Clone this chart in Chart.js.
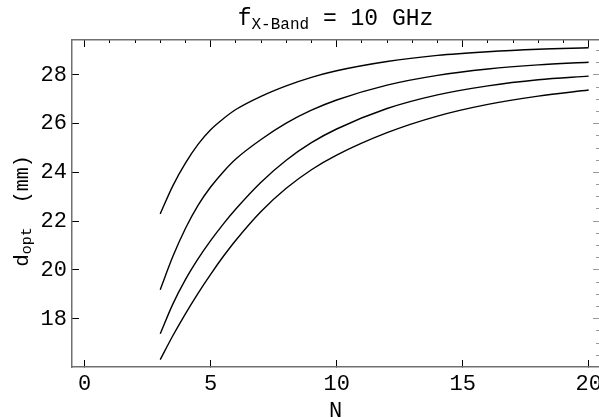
<!DOCTYPE html>
<html>
<head>
<meta charset="utf-8">
<script src="https://cdn.jsdelivr.net/npm/chart.js@4.4.1/dist/chart.umd.min.js"></script>
<style>
  html, body { margin: 0; padding: 0; background: #fff; overflow: hidden; }
  #wrap { width: 599px; height: 417px; }
</style>
</head>
<body>
<div id="wrap"><canvas id="c" width="599" height="417"></canvas></div>
<script>
// ---- data ----
const nValues = [3, 3.5, 4, 4.5, 5, 5.5, 6, 7, 8, 9, 10, 12, 14, 16, 18, 20];
const curve1 = [22.3, 23.45, 24.38, 25.15, 25.75, 26.2, 26.58, 27.12, 27.55, 27.9, 28.17, 28.55, 28.8, 28.95, 29.05, 29.11];
const curve2 = [19.19, 20.55, 21.7, 22.65, 23.4, 24.02, 24.55, 25.35, 26.02, 26.55, 26.97, 27.58, 27.98, 28.24, 28.41, 28.52];
const curve3 = [17.38, 18.6, 19.6, 20.45, 21.2, 21.88, 22.5, 23.6, 24.5, 25.22, 25.78, 26.62, 27.18, 27.55, 27.8, 27.95];
const curve4 = [16.32, 17.3, 18.2, 19.04, 19.82, 20.55, 21.22, 22.4, 23.35, 24.11, 24.71, 25.63, 26.31, 26.79, 27.13, 27.38];
const xTickLabels = [0, 5, 10, 15, 20];
const yTickLabels = [18, 20, 22, 24, 26, 28];
const titleMain = 'f';
const titleSub = 'X-Band';
const titleRest = ' = 10 GHz';
const yLabelMain = 'd';
const yLabelSub = 'opt';
const yLabelRest = '  (mm)';
const xLabel = 'N';

const FONT = '"Liberation Mono", "Courier New", monospace';

function toPoints(ys) { return nValues.map((n, i) => ({ x: n, y: ys[i] })); }

const isXMajor = v => xTickLabels.includes(Math.round(v * 1000) / 1000);
const isYMajor = v => yTickLabels.includes(Math.round(v * 1000) / 1000);

function tickDash(isMajor, fromBorder) {
  return ctx => {
    if (!ctx.tick) return [];
    if (isMajor(ctx.tick.value)) return [];
    return fromBorder ? [3, 100] : [0, 4, 3, 100];
  };
}

function fixFit(w, h) {
  return s => {
    if (w !== null) s.width = w;
    if (h !== null) s.height = h;
    s.paddingLeft = 0; s.paddingRight = 0; s.paddingTop = 0; s.paddingBottom = 0;
  };
}

function drawRich(ctx, parts, cx, baseline) {
  let total = 0;
  parts.forEach(p => { ctx.font = p.size + 'px ' + FONT; p.w = ctx.measureText(p.text).width; total += p.w; });
  let x = cx - total / 2;
  parts.forEach(p => {
    ctx.font = p.size + 'px ' + FONT;
    ctx.fillText(p.text, x, baseline + (p.dy || 0));
    x += p.w;
  });
}

const textPlugin = {
  id: 'richText',
  afterDraw(chart) {
    const ctx = chart.ctx;
    const a = chart.chartArea;
    const cx = (a.left + a.right) / 2;
    ctx.save();
    ctx.fillStyle = '#000';
    ctx.textAlign = 'left';
    ctx.textBaseline = 'alphabetic';
    drawRich(ctx, [
      { text: titleMain, size: 23 },
      { text: titleSub, size: 16, dy: 4 },
      { text: titleRest, size: 23 }
    ], cx, 25);
    drawRich(ctx, [{ text: xLabel, size: 22 }], cx, 417);
    ctx.translate(28, 211);
    ctx.rotate(-Math.PI / 2);
    drawRich(ctx, [
      { text: yLabelMain, size: 21 },
      { text: yLabelSub, size: 15, dy: 3 },
      { text: yLabelRest, size: 20 }
    ], 0, 0);
    ctx.restore();
  }
};

const lineStyle = { borderColor: '#000', borderWidth: 1.4, pointRadius: 0, fill: false, cubicInterpolationMode: 'monotone' };

new Chart(document.getElementById('c'), {
  type: 'line',
  data: {
    datasets: [
      Object.assign({ label: 'c1', data: toPoints(curve1) }, lineStyle),
      Object.assign({ label: 'c2', data: toPoints(curve2) }, lineStyle),
      Object.assign({ label: 'c3', data: toPoints(curve3) }, lineStyle),
      Object.assign({ label: 'c4', data: toPoints(curve4) }, lineStyle)
    ]
  },
  options: {
    responsive: false,
    animation: false,
    events: [],
    layout: { padding: 0 },
    plugins: { legend: { display: false }, tooltip: { enabled: false }, title: { display: false } },
    scales: {
      x: {
        type: 'linear', position: 'bottom', min: -0.5, max: 20.41,
        ticks: {
          stepSize: 1, autoSkip: false, maxTicksLimit: 100, maxRotation: 0, includeBounds: false,
          padding: 11, color: '#000', font: { family: FONT, size: 22 },
          callback: v => isXMajor(v) ? String(Math.round(v)) : null
        },
        grid: { drawOnChartArea: false, drawTicks: true, tickLength: -7, tickColor: '#000', tickWidth: 1, tickBorderDash: tickDash(isXMajor, true) },
        border: { display: true, color: '#707070', width: 1.5 },
        afterFit: fixFit(null, 50)
      },
      xTop: {
        type: 'linear', position: 'top', min: -0.5, max: 20.41,
        ticks: { display: false, stepSize: 1, autoSkip: false, maxTicksLimit: 100, includeBounds: false },
        grid: { drawOnChartArea: false, drawTicks: true, tickLength: -7, tickColor: '#000', tickWidth: 1, tickBorderDash: tickDash(isXMajor, false) },
        border: { display: true, color: '#707070', width: 1.5 },
        afterFit: fixFit(null, 40)
      },
      y: {
        type: 'linear', position: 'left', min: 16.02, max: 29.43,
        ticks: {
          stepSize: 0.5, autoSkip: false, maxTicksLimit: 100, includeBounds: false,
          padding: 12, color: '#000', font: { family: FONT, size: 22 },
          callback: v => isYMajor(v) ? String(Math.round(v)) : null
        },
        grid: { drawOnChartArea: false, drawTicks: true, tickLength: -7, tickColor: '#000', tickWidth: 1, tickBorderDash: tickDash(isYMajor, false) },
        border: { display: true, color: '#707070', width: 1.5 },
        afterFit: fixFit(72, null)
      },
      yRight: {
        type: 'linear', position: 'right', min: 16.02, max: 29.43,
        ticks: { display: false, stepSize: 0.5, autoSkip: false, maxTicksLimit: 100, includeBounds: false },
        grid: { drawOnChartArea: false, drawTicks: true, tickLength: -6, tickColor: '#9a9a9a', tickWidth: 1, tickBorderDash: tickDash(isYMajor, true) },
        border: { display: false },
        afterFit: fixFit(0, null)
      }
    }
  },
  plugins: [textPlugin]
});
</script>
</body>
</html>
